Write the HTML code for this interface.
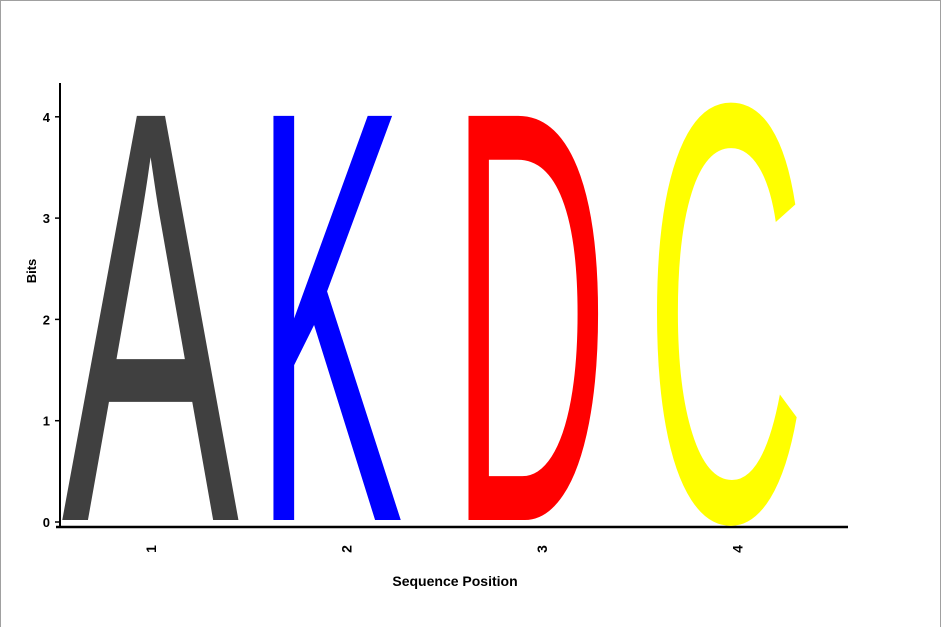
<!DOCTYPE html>
<html><head><meta charset="utf-8"><style>
html,body{margin:0;padding:0;background:#fff;}
#wrap{position:relative;width:939px;height:626px;border:1px solid #a0a0a0;border-bottom:none;overflow:hidden;}
svg{position:absolute;left:0;top:0;}
text{font-family:"Liberation Sans",Arial,sans-serif;}
</style></head><body>
<div id="wrap">
<svg id="chart" width="941" height="628"></svg>
</div>
<script>
const positions = ["1","2","3","4"];
const letters = ["A","K","D","C"];
const bits = [3.98, 3.98, 3.98, 4.05];
const colors = ["#404040","#0000ff","#ff0000","#ffff00"];
const yTicks = [0,1,2,3,4];

const svg = document.getElementById('chart');
const NS = "http://www.w3.org/2000/svg";
const y0 = 521, pxPerBit = 101.3;
function yScale(v){ return y0 - v*pxPerBit; }
const colLeft = 58, colW = 195.5;
function xCenter(i){ return colLeft + colW*(i+0.5); }
const inkW = [178,148,158,159.3];
const inkOff = [-6,-23,-18.2,-17.8];

function mk(tag, attrs){ const e=document.createElementNS(NS,tag); for(const k in attrs) e.setAttribute(k,attrs[k]); svg.appendChild(e); return e; }

const ya = mk('line',{x1:59,y1:82,x2:59,y2:527,stroke:'#000','stroke-width':2});


const xa = mk('line',{x1:55,y1:526,x2:847,y2:526,stroke:'#000','stroke-width':2.5});



yTicks.forEach(v=>{
  const y=yScale(v);
  const t=mk('line',{x1:54,y1:y,x2:59,y2:y,stroke:'#000','stroke-width':1.5});
  
  
  const l=mk('text',{x:49,y:y+5,'text-anchor':'end','font-size':13,'font-weight':'bold'});
  l.textContent=v;
  
  
});

positions.forEach((p,i)=>{
  const x=xCenter(i);
  const l=mk('text',{x:0,y:0,'text-anchor':'middle','font-size':14,'font-weight':'bold',transform:`translate(${x-1},548) rotate(-90)`});
  l.textContent=p;
  
  
});

const yt=mk('text',{x:0,y:0,'text-anchor':'middle','font-size':13,'font-weight':'bold',transform:'translate(35,270) rotate(-90)'});
yt.textContent='Bits';


const xt=mk('text',{x:454,y:585,'text-anchor':'middle','font-size':14,'font-weight':'bold'});
xt.textContent='Sequence Position';



letters.forEach((ch,i)=>{
  const g=document.createElementNS(NS,'g'); svg.appendChild(g);
  const t=document.createElementNS(NS,'text');
  t.setAttribute('font-size',100);
  t.setAttribute('fill',colors[i]);
  t.textContent=ch;
  g.appendChild(t);
  
  
  const bb=t.getBBox();
  const capH=68.3, adv=bb.width;
  const inkLeft=bb.x;
  const top=yScale(bits[i]), bottom=yScale(0)-2;
  const sy=(bottom-top)/capH;
  const w=inkW[i], sx=w/adv;
  const left=xCenter(i)-w/2+inkOff[i];
  g.setAttribute('transform',`translate(${left - inkLeft*sx},${bottom}) scale(${sx},${sy})`);
});
</script>
</body></html>
